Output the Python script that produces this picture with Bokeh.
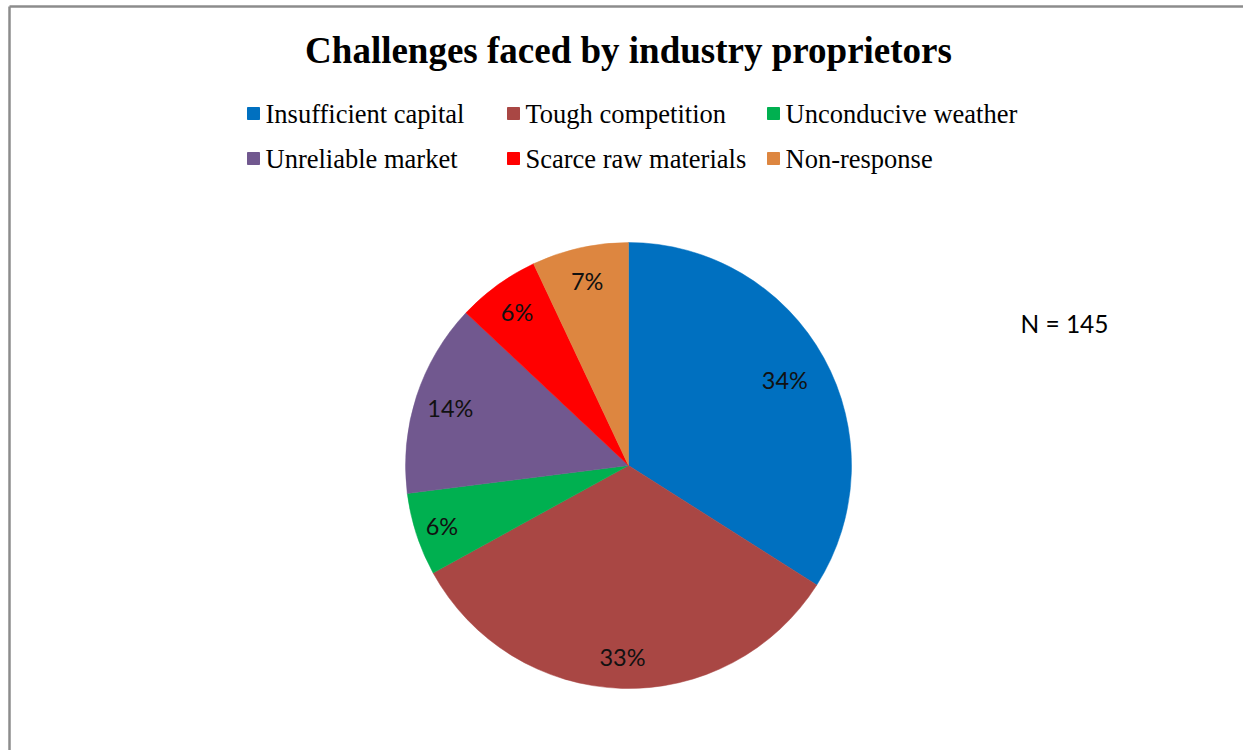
import math
from bokeh.plotting import figure
from bokeh.models import Range1d, ColumnDataSource
from bokeh.core.properties import value
from bokeh.embed import file_html
from bokeh.resources import INLINE

# ---- data ----
categories = ["Insufficient capital", "Tough competition", "Unconducive weather",
              "Unreliable market", "Scarce raw materials", "Non-response"]
percents = [34, 33, 6, 14, 6, 7]
colors = ["#0070C0", "#A94744", "#00B050", "#71588F", "#FF0000", "#DD8640"]
title_text = "Challenges faced by industry proprietors"
note_text = "N = 145"

# ---- layout (pixel space, y measured from top) ----
W, H = 1243, 750
CX, CY, R = 628, 465, 223
label_r = [0.80, 0.86, 0.88, 0.84, 0.85, 0.85]
legend_cols_x = [247, 507, 767]
legend_rows_y = [113, 158]

def Y(py):
    return H - py

p = figure(width=W, height=H, x_range=Range1d(0, W), y_range=Range1d(0, H),
           output_backend="svg", toolbar_location=None, min_border=0)
p.axis.visible = False
p.grid.visible = False
p.outline_line_color = None
p.background_fill_color = "white"
p.border_fill_color = "white"

# outer chart border (left and top visible)
p.line(x=[9, 9], y=[0, Y(6)], line_color="#8c8c8c", line_width=2.5)
p.line(x=[9, W], y=[Y(6), Y(6)], line_color="#8c8c8c", line_width=2.5)

# wedges, clockwise from 12 o'clock
total = sum(percents)
starts, ends, lx, ly, labels = [], [], [], [], []
cum = 0
for i, v in enumerate(percents):
    a_end = math.radians(90 - cum / total * 360)
    cum += v
    a_start = math.radians(90 - cum / total * 360)
    starts.append(a_start)
    ends.append(a_end)
    mid = (a_start + a_end) / 2
    lx.append(CX + label_r[i] * R * math.cos(mid))
    ly.append(Y(CY) + label_r[i] * R * math.sin(mid))
    labels.append(f"{v}%")

src = ColumnDataSource(dict(start=starts, end=ends, color=colors, cat=categories))
p.wedge(x=CX, y=Y(CY), radius=R, start_angle="start", end_angle="end",
        direction="anticlock", fill_color="color", line_color="color",
        line_width=0.5, source=src)

p.text(x=lx, y=ly, text=labels, text_align="center", text_baseline="middle",
       text_font=value("Lato"), text_font_size="23.5px", text_color="#111111")

# title
p.text(x=[CX], y=[Y(50)], text=[title_text], text_align="center",
       text_baseline="middle", text_font=value("Liberation Serif"),
       text_font_style="bold", text_font_size="37px", text_color="black")

# legend
mx, my, tx, ty = [], [], [], []
for i, c in enumerate(categories):
    col = i % 3
    row = i // 3
    mx.append(legend_cols_x[col] + 6)
    my.append(Y(legend_rows_y[row]))
    tx.append(legend_cols_x[col] + 18)
    ty.append(Y(legend_rows_y[row]))
p.scatter(x=mx, y=my, marker="square", size=12, fill_color=colors, line_color=colors)
p.text(x=tx, y=ty, text=categories, text_align="left", text_baseline="middle",
       text_font=value("Liberation Serif"), text_font_size="26.5px", text_color="black")

# N note
p.text(x=[1064], y=[Y(323)], text=[note_text], text_align="center",
       text_baseline="middle", text_font=value("Lato"), text_font_size="24.5px",
       text_color="black")

open("out.html", "w").write(file_html(p, INLINE))
